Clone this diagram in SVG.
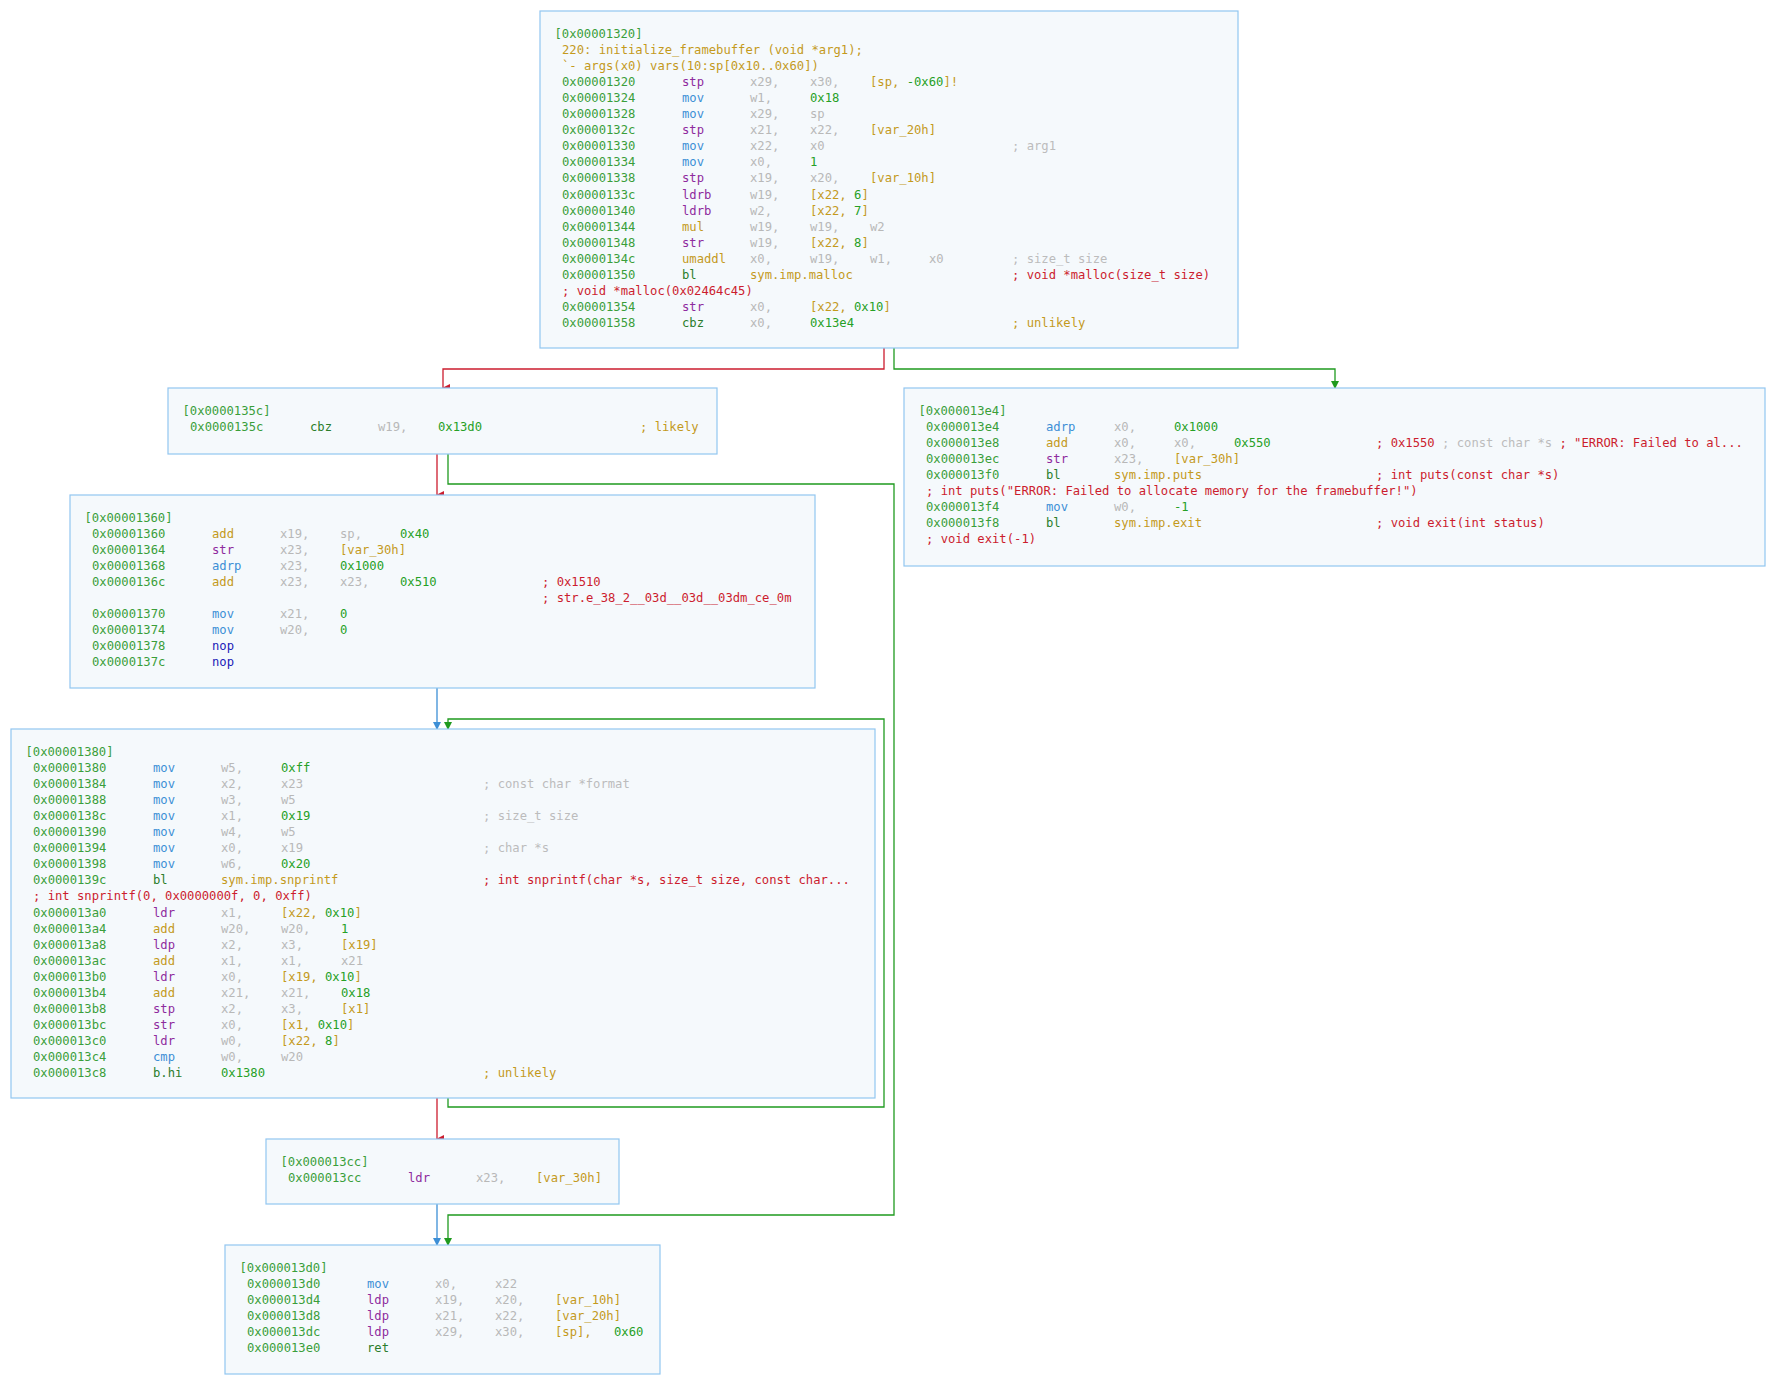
<svg xmlns="http://www.w3.org/2000/svg" width="1775" height="1384" viewBox="0 0 1775 1384">
<style>
text{font-family:"DejaVu Sans Mono","Liberation Mono",monospace;font-size:12.2px}
.box{fill:#f5f9fc;stroke:#92c6f0;stroke-width:1.2}
.h,.a{fill:#3a9e3a}.n{fill:#26a026}
.mp{fill:#8e2b9e}.mb{fill:#3d8fd6}.my{fill:#c49a1c}.mg{fill:#2b7d2b}.mn{fill:#1b1bb8}
.r{fill:#b8b8b8}.m{fill:#c49a1c}.s{fill:#c49a1c}.c{fill:#bcbcbc}.cy{fill:#c49a1c}.cr{fill:#cc1d2e}
.e{fill:none;stroke-width:1.3}
</style>
<defs>
<marker id="ar" markerWidth="8" markerHeight="8" refX="4" refY="7" orient="auto-start-reverse" markerUnits="userSpaceOnUse" viewBox="0 0 8 8"><path d="M0,0 L8,0 L4,8z" fill="#cc1d2e"/></marker>
<marker id="ag" markerWidth="8" markerHeight="8" refX="4" refY="7" markerUnits="userSpaceOnUse" viewBox="0 0 8 8"><path d="M0,0 L8,0 L4,8z" fill="#1f9a1f"/></marker>
<marker id="ab" markerWidth="8" markerHeight="8" refX="4" refY="7" markerUnits="userSpaceOnUse" viewBox="0 0 8 8"><path d="M0,0 L8,0 L4,8z" fill="#3d8fd6"/></marker>
</defs>
<g id="connectors">
<path class="e" stroke="#cc1d2e" d="M884,348 V369 H443 V388" marker-end="url(#ar)"/>
<path class="e" stroke="#1f9a1f" d="M894,348 V369 H1335 V388" marker-end="url(#ag)"/>
<path class="e" stroke="#cc1d2e" d="M437,454 V495" marker-end="url(#ar)"/>
<path class="e" stroke="#1f9a1f" d="M448,454 V484 H894 V1215 H448 V1245" marker-end="url(#ag)"/>
<path class="e" stroke="#3d8fd6" d="M437,688 V729" marker-end="url(#ab)"/>
<path class="e" stroke="#1f9a1f" d="M448,1098 V1107 H884 V719 H448 V729" marker-end="url(#ag)"/>
<path class="e" stroke="#cc1d2e" d="M437,1098 V1139" marker-end="url(#ar)"/>
<path class="e" stroke="#3d8fd6" d="M437,1204 V1245" marker-end="url(#ab)"/>
</g>
<g id="b1320" transform="translate(540,11)">
<rect class="box" width="698" height="337"/>
<text y="27"><tspan class="h" x="14.5">[0x00001320]</tspan></text>
<text y="43.05"><tspan class="s" x="22">220: initialize_framebuffer (void *arg1);</tspan></text>
<text y="59.1"><tspan class="s" x="22">`- args(x0) vars(10:sp[0x10..0x60])</tspan></text>
<text y="75.15"><tspan class="a" x="22">0x00001320</tspan><tspan class="mp" x="142">stp</tspan><tspan class="r" x="210">x29,</tspan><tspan class="r" x="270">x30,</tspan><tspan class="m" x="330">[sp, </tspan><tspan class="n">-0x60</tspan><tspan class="m">]!</tspan></text>
<text y="91.2"><tspan class="a" x="22">0x00001324</tspan><tspan class="mb" x="142">mov</tspan><tspan class="r" x="210">w1,</tspan><tspan class="n" x="270">0x18</tspan></text>
<text y="107.25"><tspan class="a" x="22">0x00001328</tspan><tspan class="mb" x="142">mov</tspan><tspan class="r" x="210">x29,</tspan><tspan class="r" x="270">sp</tspan></text>
<text y="123.3"><tspan class="a" x="22">0x0000132c</tspan><tspan class="mp" x="142">stp</tspan><tspan class="r" x="210">x21,</tspan><tspan class="r" x="270">x22,</tspan><tspan class="m" x="330">[var_20h]</tspan></text>
<text y="139.35"><tspan class="a" x="22">0x00001330</tspan><tspan class="mb" x="142">mov</tspan><tspan class="r" x="210">x22,</tspan><tspan class="r" x="270">x0</tspan><tspan class="c" x="472">; arg1</tspan></text>
<text y="155.4"><tspan class="a" x="22">0x00001334</tspan><tspan class="mb" x="142">mov</tspan><tspan class="r" x="210">x0,</tspan><tspan class="n" x="270">1</tspan></text>
<text y="171.45"><tspan class="a" x="22">0x00001338</tspan><tspan class="mp" x="142">stp</tspan><tspan class="r" x="210">x19,</tspan><tspan class="r" x="270">x20,</tspan><tspan class="m" x="330">[var_10h]</tspan></text>
<text y="187.5"><tspan class="a" x="22">0x0000133c</tspan><tspan class="mp" x="142">ldrb</tspan><tspan class="r" x="210">w19,</tspan><tspan class="m" x="270">[x22, </tspan><tspan class="n">6</tspan><tspan class="m">]</tspan></text>
<text y="203.55"><tspan class="a" x="22">0x00001340</tspan><tspan class="mp" x="142">ldrb</tspan><tspan class="r" x="210">w2,</tspan><tspan class="m" x="270">[x22, </tspan><tspan class="n">7</tspan><tspan class="m">]</tspan></text>
<text y="219.6"><tspan class="a" x="22">0x00001344</tspan><tspan class="my" x="142">mul</tspan><tspan class="r" x="210">w19,</tspan><tspan class="r" x="270">w19,</tspan><tspan class="r" x="330">w2</tspan></text>
<text y="235.65"><tspan class="a" x="22">0x00001348</tspan><tspan class="mp" x="142">str</tspan><tspan class="r" x="210">w19,</tspan><tspan class="m" x="270">[x22, </tspan><tspan class="n">8</tspan><tspan class="m">]</tspan></text>
<text y="251.7"><tspan class="a" x="22">0x0000134c</tspan><tspan class="my" x="142">umaddl</tspan><tspan class="r" x="210">x0,</tspan><tspan class="r" x="270">w19,</tspan><tspan class="r" x="330">w1,</tspan><tspan class="r" x="389">x0</tspan><tspan class="c" x="472">; size_t size</tspan></text>
<text y="267.75"><tspan class="a" x="22">0x00001350</tspan><tspan class="mg" x="142">bl</tspan><tspan class="s" x="210">sym.imp.malloc</tspan><tspan class="cr" x="472">;  void *malloc(size_t size)</tspan></text>
<text y="283.8"><tspan class="cr" x="22">;  void *malloc(0x02464c45)</tspan></text>
<text y="299.85"><tspan class="a" x="22">0x00001354</tspan><tspan class="mp" x="142">str</tspan><tspan class="r" x="210">x0,</tspan><tspan class="m" x="270">[x22, </tspan><tspan class="n">0x10</tspan><tspan class="m">]</tspan></text>
<text y="315.9"><tspan class="a" x="22">0x00001358</tspan><tspan class="mg" x="142">cbz</tspan><tspan class="r" x="210">x0,</tspan><tspan class="n" x="270">0x13e4</tspan><tspan class="cy" x="472">; unlikely</tspan></text>
</g>
<g id="b135c" transform="translate(168,388)">
<rect class="box" width="549" height="66"/>
<text y="27"><tspan class="h" x="14.5">[0x0000135c]</tspan></text>
<text y="43.05"><tspan class="a" x="22">0x0000135c</tspan><tspan class="mg" x="142">cbz</tspan><tspan class="r" x="210">w19,</tspan><tspan class="n" x="270">0x13d0</tspan><tspan class="cy" x="472">; likely</tspan></text>
</g>
<g id="b13e4" transform="translate(904,388)">
<rect class="box" width="861" height="178"/>
<text y="27"><tspan class="h" x="14.5">[0x000013e4]</tspan></text>
<text y="43.05"><tspan class="a" x="22">0x000013e4</tspan><tspan class="mb" x="142">adrp</tspan><tspan class="r" x="210">x0,</tspan><tspan class="n" x="270">0x1000</tspan></text>
<text y="59.1"><tspan class="a" x="22">0x000013e8</tspan><tspan class="my" x="142">add</tspan><tspan class="r" x="210">x0,</tspan><tspan class="r" x="270">x0,</tspan><tspan class="n" x="330">0x550</tspan><tspan class="cr" x="472">; 0x1550</tspan><tspan class="c"> ; const char *s</tspan><tspan class="cr"> ; "ERROR: Failed to al...</tspan></text>
<text y="75.15"><tspan class="a" x="22">0x000013ec</tspan><tspan class="mp" x="142">str</tspan><tspan class="r" x="210">x23,</tspan><tspan class="m" x="270">[var_30h]</tspan></text>
<text y="91.2"><tspan class="a" x="22">0x000013f0</tspan><tspan class="mg" x="142">bl</tspan><tspan class="s" x="210">sym.imp.puts</tspan><tspan class="cr" x="472">; int puts(const char *s)</tspan></text>
<text y="107.25"><tspan class="cr" x="22">; int puts("ERROR: Failed to allocate memory for the framebuffer!")</tspan></text>
<text y="123.3"><tspan class="a" x="22">0x000013f4</tspan><tspan class="mb" x="142">mov</tspan><tspan class="r" x="210">w0,</tspan><tspan class="n" x="270">-1</tspan></text>
<text y="139.35"><tspan class="a" x="22">0x000013f8</tspan><tspan class="mg" x="142">bl</tspan><tspan class="s" x="210">sym.imp.exit</tspan><tspan class="cr" x="472">; void exit(int status)</tspan></text>
<text y="155.4"><tspan class="cr" x="22">; void exit(-1)</tspan></text>
</g>
<g id="b1360" transform="translate(70,495)">
<rect class="box" width="745" height="193"/>
<text y="27"><tspan class="h" x="14.5">[0x00001360]</tspan></text>
<text y="43.05"><tspan class="a" x="22">0x00001360</tspan><tspan class="my" x="142">add</tspan><tspan class="r" x="210">x19,</tspan><tspan class="r" x="270">sp,</tspan><tspan class="n" x="330">0x40</tspan></text>
<text y="59.1"><tspan class="a" x="22">0x00001364</tspan><tspan class="mp" x="142">str</tspan><tspan class="r" x="210">x23,</tspan><tspan class="m" x="270">[var_30h]</tspan></text>
<text y="75.15"><tspan class="a" x="22">0x00001368</tspan><tspan class="mb" x="142">adrp</tspan><tspan class="r" x="210">x23,</tspan><tspan class="n" x="270">0x1000</tspan></text>
<text y="91.2"><tspan class="a" x="22">0x0000136c</tspan><tspan class="my" x="142">add</tspan><tspan class="r" x="210">x23,</tspan><tspan class="r" x="270">x23,</tspan><tspan class="n" x="330">0x510</tspan><tspan class="cr" x="472">; 0x1510</tspan></text>
<text y="107.25"><tspan class="cr" x="472">; str.e_38_2__03d__03d__03dm_ce_0m</tspan></text>
<text y="123.3"><tspan class="a" x="22">0x00001370</tspan><tspan class="mb" x="142">mov</tspan><tspan class="r" x="210">x21,</tspan><tspan class="n" x="270">0</tspan></text>
<text y="139.35"><tspan class="a" x="22">0x00001374</tspan><tspan class="mb" x="142">mov</tspan><tspan class="r" x="210">w20,</tspan><tspan class="n" x="270">0</tspan></text>
<text y="155.4"><tspan class="a" x="22">0x00001378</tspan><tspan class="mn" x="142">nop</tspan></text>
<text y="171.45"><tspan class="a" x="22">0x0000137c</tspan><tspan class="mn" x="142">nop</tspan></text>
</g>
<g id="b1380" transform="translate(11,729)">
<rect class="box" width="864" height="369"/>
<text y="27"><tspan class="h" x="14.5">[0x00001380]</tspan></text>
<text y="43.05"><tspan class="a" x="22">0x00001380</tspan><tspan class="mb" x="142">mov</tspan><tspan class="r" x="210">w5,</tspan><tspan class="n" x="270">0xff</tspan></text>
<text y="59.1"><tspan class="a" x="22">0x00001384</tspan><tspan class="mb" x="142">mov</tspan><tspan class="r" x="210">x2,</tspan><tspan class="r" x="270">x23</tspan><tspan class="c" x="472">; const char *format</tspan></text>
<text y="75.15"><tspan class="a" x="22">0x00001388</tspan><tspan class="mb" x="142">mov</tspan><tspan class="r" x="210">w3,</tspan><tspan class="r" x="270">w5</tspan></text>
<text y="91.2"><tspan class="a" x="22">0x0000138c</tspan><tspan class="mb" x="142">mov</tspan><tspan class="r" x="210">x1,</tspan><tspan class="n" x="270">0x19</tspan><tspan class="c" x="472">; size_t size</tspan></text>
<text y="107.25"><tspan class="a" x="22">0x00001390</tspan><tspan class="mb" x="142">mov</tspan><tspan class="r" x="210">w4,</tspan><tspan class="r" x="270">w5</tspan></text>
<text y="123.3"><tspan class="a" x="22">0x00001394</tspan><tspan class="mb" x="142">mov</tspan><tspan class="r" x="210">x0,</tspan><tspan class="r" x="270">x19</tspan><tspan class="c" x="472">; char *s</tspan></text>
<text y="139.35"><tspan class="a" x="22">0x00001398</tspan><tspan class="mb" x="142">mov</tspan><tspan class="r" x="210">w6,</tspan><tspan class="n" x="270">0x20</tspan></text>
<text y="155.4"><tspan class="a" x="22">0x0000139c</tspan><tspan class="mg" x="142">bl</tspan><tspan class="s" x="210">sym.imp.snprintf</tspan><tspan class="cr" x="472">; int snprintf(char *s, size_t size, const char...</tspan></text>
<text y="171.45"><tspan class="cr" x="22">; int snprintf(0, 0x0000000f, 0, 0xff)</tspan></text>
<text y="187.5"><tspan class="a" x="22">0x000013a0</tspan><tspan class="mp" x="142">ldr</tspan><tspan class="r" x="210">x1,</tspan><tspan class="m" x="270">[x22, </tspan><tspan class="n">0x10</tspan><tspan class="m">]</tspan></text>
<text y="203.55"><tspan class="a" x="22">0x000013a4</tspan><tspan class="my" x="142">add</tspan><tspan class="r" x="210">w20,</tspan><tspan class="r" x="270">w20,</tspan><tspan class="n" x="330">1</tspan></text>
<text y="219.6"><tspan class="a" x="22">0x000013a8</tspan><tspan class="mp" x="142">ldp</tspan><tspan class="r" x="210">x2,</tspan><tspan class="r" x="270">x3,</tspan><tspan class="m" x="330">[x19]</tspan></text>
<text y="235.65"><tspan class="a" x="22">0x000013ac</tspan><tspan class="my" x="142">add</tspan><tspan class="r" x="210">x1,</tspan><tspan class="r" x="270">x1,</tspan><tspan class="r" x="330">x21</tspan></text>
<text y="251.7"><tspan class="a" x="22">0x000013b0</tspan><tspan class="mp" x="142">ldr</tspan><tspan class="r" x="210">x0,</tspan><tspan class="m" x="270">[x19, </tspan><tspan class="n">0x10</tspan><tspan class="m">]</tspan></text>
<text y="267.75"><tspan class="a" x="22">0x000013b4</tspan><tspan class="my" x="142">add</tspan><tspan class="r" x="210">x21,</tspan><tspan class="r" x="270">x21,</tspan><tspan class="n" x="330">0x18</tspan></text>
<text y="283.8"><tspan class="a" x="22">0x000013b8</tspan><tspan class="mp" x="142">stp</tspan><tspan class="r" x="210">x2,</tspan><tspan class="r" x="270">x3,</tspan><tspan class="m" x="330">[x1]</tspan></text>
<text y="299.85"><tspan class="a" x="22">0x000013bc</tspan><tspan class="mp" x="142">str</tspan><tspan class="r" x="210">x0,</tspan><tspan class="m" x="270">[x1, </tspan><tspan class="n">0x10</tspan><tspan class="m">]</tspan></text>
<text y="315.9"><tspan class="a" x="22">0x000013c0</tspan><tspan class="mp" x="142">ldr</tspan><tspan class="r" x="210">w0,</tspan><tspan class="m" x="270">[x22, </tspan><tspan class="n">8</tspan><tspan class="m">]</tspan></text>
<text y="331.95"><tspan class="a" x="22">0x000013c4</tspan><tspan class="mb" x="142">cmp</tspan><tspan class="r" x="210">w0,</tspan><tspan class="r" x="270">w20</tspan></text>
<text y="348"><tspan class="a" x="22">0x000013c8</tspan><tspan class="mg" x="142">b.hi</tspan><tspan class="n" x="210">0x1380</tspan><tspan class="cy" x="472">; unlikely</tspan></text>
</g>
<g id="b13cc" transform="translate(266,1139)">
<rect class="box" width="353" height="65"/>
<text y="27"><tspan class="h" x="14.5">[0x000013cc]</tspan></text>
<text y="43.05"><tspan class="a" x="22">0x000013cc</tspan><tspan class="mp" x="142">ldr</tspan><tspan class="r" x="210">x23,</tspan><tspan class="m" x="270">[var_30h]</tspan></text>
</g>
<g id="b13d0" transform="translate(225,1245)">
<rect class="box" width="435" height="129"/>
<text y="27"><tspan class="h" x="14.5">[0x000013d0]</tspan></text>
<text y="43.05"><tspan class="a" x="22">0x000013d0</tspan><tspan class="mb" x="142">mov</tspan><tspan class="r" x="210">x0,</tspan><tspan class="r" x="270">x22</tspan></text>
<text y="59.1"><tspan class="a" x="22">0x000013d4</tspan><tspan class="mp" x="142">ldp</tspan><tspan class="r" x="210">x19,</tspan><tspan class="r" x="270">x20,</tspan><tspan class="m" x="330">[var_10h]</tspan></text>
<text y="75.15"><tspan class="a" x="22">0x000013d8</tspan><tspan class="mp" x="142">ldp</tspan><tspan class="r" x="210">x21,</tspan><tspan class="r" x="270">x22,</tspan><tspan class="m" x="330">[var_20h]</tspan></text>
<text y="91.2"><tspan class="a" x="22">0x000013dc</tspan><tspan class="mp" x="142">ldp</tspan><tspan class="r" x="210">x29,</tspan><tspan class="r" x="270">x30,</tspan><tspan class="m" x="330">[sp],</tspan><tspan class="n" x="389">0x60</tspan></text>
<text y="107.25"><tspan class="a" x="22">0x000013e0</tspan><tspan class="mg" x="142">ret</tspan></text>
</g>
</svg>
